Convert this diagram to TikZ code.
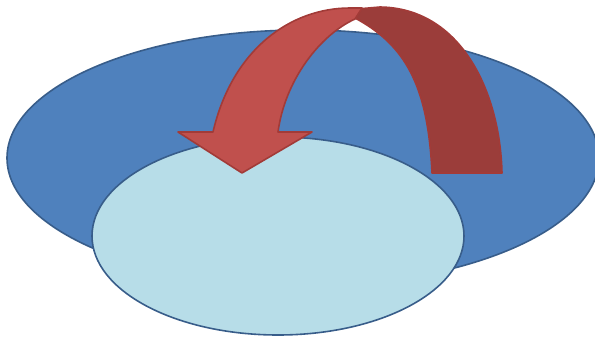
\documentclass[tikz,border=0pt]{standalone}
\usetikzlibrary{shapes.geometric}
\definecolor{plateblue}{HTML}{4F81BD}
\definecolor{discblue}{HTML}{B7DDE8}
\definecolor{edgeblue}{HTML}{385D8A}
\definecolor{frontred}{HTML}{C0504D}
\definecolor{backred}{HTML}{9B3D3A}
\definecolor{edgered}{HTML}{A23B38}

\begin{document}
\begin{tikzpicture}[x=1pt,y=-1pt,
    line width=1.6pt,
    blob/.style={ellipse,draw=edgeblue,inner sep=0pt},
    band/.style={draw=edgered,line join=round}]
    \useasboundingbox (0,0) rectangle (595,338);
    \begin{scope}
    \clip (0,0) rectangle (595,338);
    \node[blob,fill=plateblue,minimum width=592pt,minimum height=256pt] (plate) at (303,158) {};
    \end{scope}
    % back part of the arrow
    \draw[band,fill=backred] (432,173) -- (502,173)
        .. controls (500,90) and (460,8) .. (380,7) -- (345,10) -- (355,18)
        .. controls (405,45) and (428,85) .. cycle;
    \node[blob,fill=discblue,minimum width=372pt,minimum height=198pt] (disc) at (278,236) {};
    % front part with the head
    \draw[band,fill=frontred] (178,132) -- (213,132)
        .. controls (232,50) and (290,8) .. (350,8) -- (362,8) -- (355,19)
        .. controls (320,35) and (285,80) .. (278,132)
        -- (312,132) -- (242,173) -- cycle;
\end{tikzpicture}
\end{document}
